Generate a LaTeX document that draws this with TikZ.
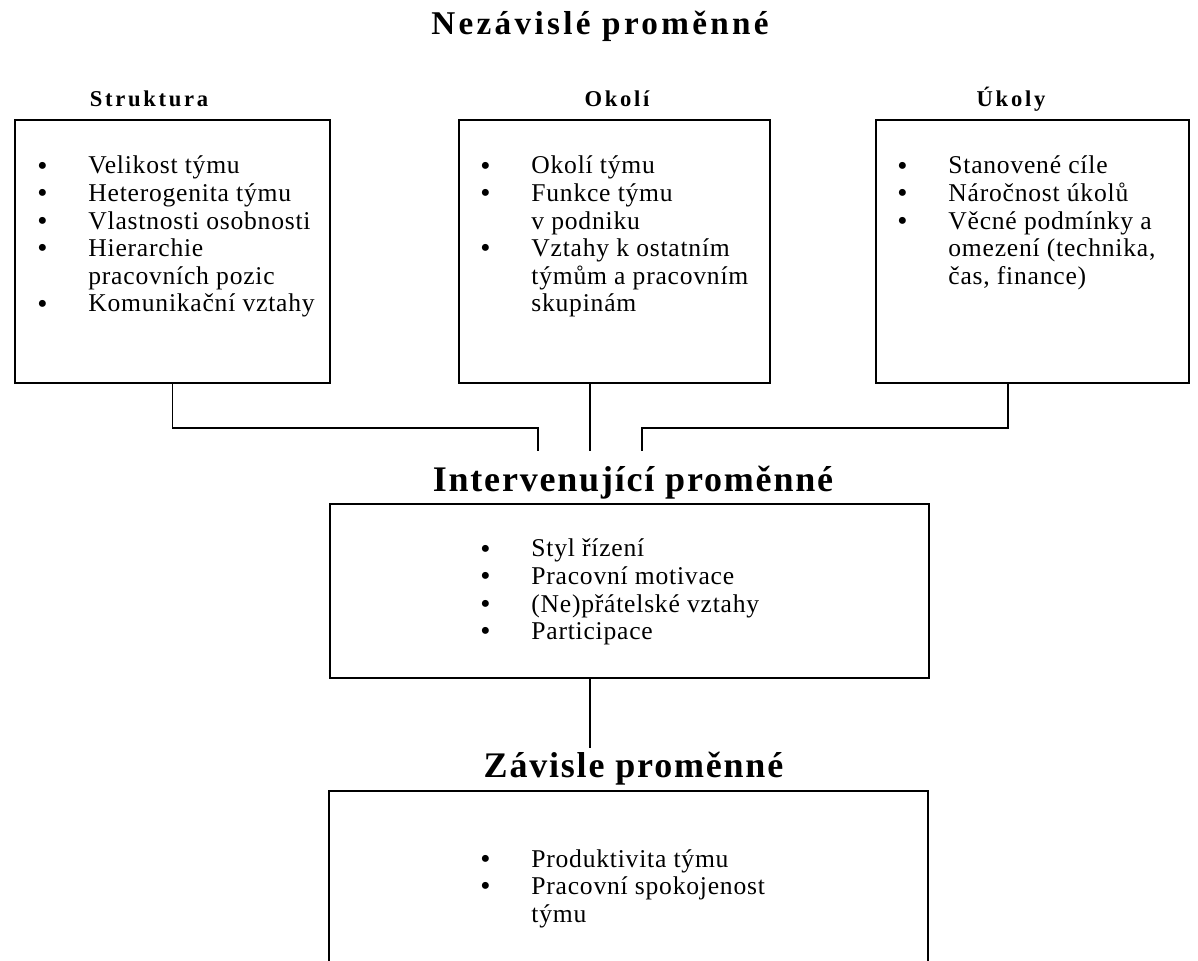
\documentclass[tikz,border=0pt]{standalone}
\usepackage{fontspec}
\setmainfont{Liberation Serif}
\newfontfamily\pismo[LetterSpace=3]{Liberation Serif}
\newfontfamily\titulek[LetterSpace=10]{Liberation Serif}
\newfontfamily\hlavicka[LetterSpace=12]{Liberation Serif}
\newfontfamily\stredni[LetterSpace=5]{Liberation Serif}
\usetikzlibrary{calc}
\newcommand{\tecka}{\raisebox{-0.6pt}[0pt][0pt]{\fontsize{14.5}{13.8}\selectfont\textbullet}}
\newcommand{\polozky}[1]{\begin{tabular}[t]{@{}p{25.5pt}@{}l@{}}#1\end{tabular}}

\begin{document}
\begin{tikzpicture}[x=0.5pt,y=-0.5pt]
	\tikzset{ramec/.style={draw, line width=1pt, inner sep=0pt, outer sep=0pt, minimum height=131.5pt}}
	\tikzset{seznam/.style={anchor=base west, inner sep=0pt, font=\pismo\fontsize{12.8}{13.8}\selectfont}}
	\tikzset{nadpis/.style={anchor=base, inner sep=0pt, font=\hlavicka\bfseries\fontsize{11.3}{13}\selectfont}}
	\tikzset{velky/.style={anchor=base, inner sep=0pt, font=\stredni\bfseries\fontsize{18}{20}\selectfont}}
	\tikzset{spoj/.style={draw, line width=0.85pt}}
	\useasboundingbox (0,0) rectangle (1198,961);
	\clip (0,0) rectangle (1198,961);
	\node[anchor=base, inner sep=0pt, font=\titulek\bfseries\fontsize{16.6}{18}\selectfont] (nezav) at (600,35) {Nezávislé proměnné};
	\node[nadpis] (hStrukt) at (149,107) {Struktura};
	\node[nadpis] (hOkoli) at (617,107) {Okolí};
	\node[nadpis] (hUkoly) at (1011,107) {Úkoly};
	\node[ramec, minimum width=157.5pt] (struk) at (172.5,251.5) {};
	\node[ramec, minimum width=155.5pt] (okoli) at (614.5,251.5) {};
	\node[ramec, minimum width=156.5pt] (ukoly) at (1032.5,251.5) {};
	\node[seznam] (lStrukt) at (37,174) {\polozky{\tecka & Velikost týmu\\ \tecka & Heterogenita týmu\\ \tecka & Vlastnosti osobnosti\\ \tecka & Hierarchie\\ & pracovních pozic\\ \tecka & Komunikační vztahy}};
	\node[seznam] (lOkoli) at (480,174) {\polozky{\tecka & Okolí týmu\\ \tecka & Funkce týmu\\ & v podniku\\ \tecka & Vztahy k ostatním\\ & týmům a pracovním\\ & skupinám}};
	\node[seznam] (lUkoly) at (897,174) {\polozky{\tecka & Stanovené cíle\\ \tecka & Náročnost úkolů\\ \tecka & Věcné podmínky a\\ & omezení (technika,\\ & čas, finance)}};
	\coordinate (kL) at (538,451);
	\coordinate (kM) at (590,451);
	\coordinate (kR) at (642,451);
	\draw[spoj] (struk.south) -- ++(0,45) -| (kL);
	\draw[spoj] (okoli.south -| kM) -- (kM);
	\draw[spoj] ($(ukoly.south)+(-24.5,0)$) -- ++(0,45) -| (kR);
	\node[velky] (hInterv) at (633,492) {Intervenující proměnné};
	\node[ramec, minimum width=299.5pt, minimum height=87pt] (interv) at (629.5,591) {};
	\node[seznam] (lInterv) at (480,557) {\polozky{\tecka & Styl řízení\\ \tecka & Pracovní motivace\\ \tecka & (Ne)přátelské vztahy\\ \tecka & Participace}};
	\coordinate (kZ) at (590,748);
	\draw[spoj] (interv.south -| kZ) -- (kZ);
	\node[velky] (hZavis) at (633.5,777) {Závisle proměnné};
	\node[ramec, minimum width=299.5pt, minimum height=104.5pt] (zavis) at (628.5,895.5) {};
	\node[seznam] (lZavis) at (480,867) {\polozky{\tecka & Produktivita týmu\\ \tecka & Pracovní spokojenost\\ & týmu}};
\end{tikzpicture}
\end{document}
